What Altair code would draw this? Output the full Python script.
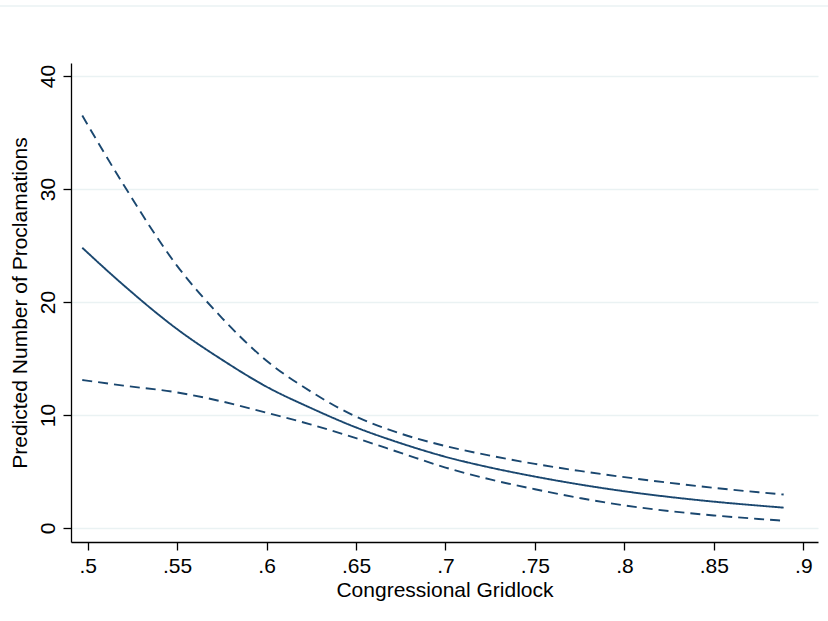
import altair as alt
import pandas as pd

# Congressional gridlock values at which predictions were evaluated
gridlock = [0.497, 0.52, 0.55, 0.575, 0.6, 0.625, 0.65, 0.675, 0.7,
            0.725, 0.75, 0.775, 0.8, 0.825, 0.85, 0.875, 0.889]

# Predicted number of proclamations and its 95% confidence bounds
predicted = [24.8, 21.5, 17.6, 14.9, 12.5, 10.6, 8.9, 7.5, 6.3,
             5.35, 4.55, 3.85, 3.25, 2.75, 2.33, 1.98, 1.8]
upper_ci = [36.5, 30.4, 23.2, 18.6, 14.8, 12.05, 9.85, 8.35, 7.25,
            6.4, 5.67, 5.05, 4.5, 4.0, 3.55, 3.16, 2.96]
lower_ci = [13.1, 12.6, 12.0, 11.2, 10.2, 9.15, 7.95, 6.65, 5.35,
            4.3, 3.43, 2.65, 2.0, 1.5, 1.11, 0.8, 0.64]

x_ticks = [0.5, 0.55, 0.6, 0.65, 0.7, 0.75, 0.8, 0.85, 0.9]
y_ticks = [0, 10, 20, 30, 40]

rows = []
for name, vals in [("Prediction", predicted), ("Upper", upper_ci), ("Lower", lower_ci)]:
    for g, v in zip(gridlock, vals):
        rows.append({"gridlock": g, "value": v, "series": name})
df = pd.DataFrame(rows)

NAVY = "#1a476f"
GRID = "#eaf2f3"
FONT = "Liberation Sans"

W, H = 747, 479

x_scale = alt.Scale(domain=[0.4907, 0.9082], nice=False, zero=False)
y_scale = alt.Scale(domain=[-1.24, 41.15], nice=False, zero=False)

lines = alt.Chart(df).mark_line(strokeWidth=1.9, color=NAVY, interpolate="monotone").encode(
    x=alt.X("gridlock:Q", scale=x_scale,
            axis=alt.Axis(values=x_ticks, title="Congressional Gridlock",
                          labelExpr="substring(format(datum.value, '.2~f'), 1)",
                          grid=False, tickSize=8, tickWidth=1.3, tickColor="#000000",
                          domainColor="#000000", domainWidth=1.3,
                          labelFont=FONT, labelFontSize=21, labelColor="#000000",
                          labelPadding=5, labelBaseline="top",
                          titleFont=FONT, titleFontSize=21, titleFontWeight="normal",
                          titleColor="#000000", titleX=W / 2, titleY=54,
                          titleAlign="center", titleBaseline="alphabetic")),
    y=alt.Y("value:Q", scale=y_scale,
            axis=alt.Axis(values=y_ticks, title="Predicted Number of Proclamations",
                          format="d", grid=True, gridColor=GRID, gridWidth=1.3,
                          tickSize=8, tickWidth=1.3, tickColor="#000000",
                          domainColor="#000000", domainWidth=1.3,
                          labelFont=FONT, labelFontSize=21, labelColor="#000000",
                          labelAngle=270, labelAlign="center", labelBaseline="alphabetic",
                          labelPadding=9,
                          titleFont=FONT, titleFontSize=21, titleFontWeight="normal",
                          titleColor="#000000", titleAngle=270, titleX=-51, titleY=H / 2,
                          titleAlign="center", titleBaseline="middle")),
    strokeDash=alt.StrokeDash("series:N",
                              scale=alt.Scale(domain=["Prediction", "Upper", "Lower"],
                                              range=[[1, 0], [10, 6], [10, 6]]),
                              legend=None),
    detail="series:N",
)

# thin frame line across the top of the graph region
frame = alt.Chart(pd.DataFrame({"k": [0]})).mark_rule(color=GRID, strokeWidth=1.3, clip=False).encode(
    x=alt.value(-71), x2=alt.value(757), y=alt.value(-57)
)

chart = alt.layer(frame, lines).properties(
    width=W, height=H,
    autosize=alt.AutoSizeParams(type="none"),
    padding={"left": 71, "top": 63, "right": 10, "bottom": 79},
    background="white",
).configure_view(stroke=None)

chart.save("out.html", embed_options={"renderer": "svg", "actions": False})
